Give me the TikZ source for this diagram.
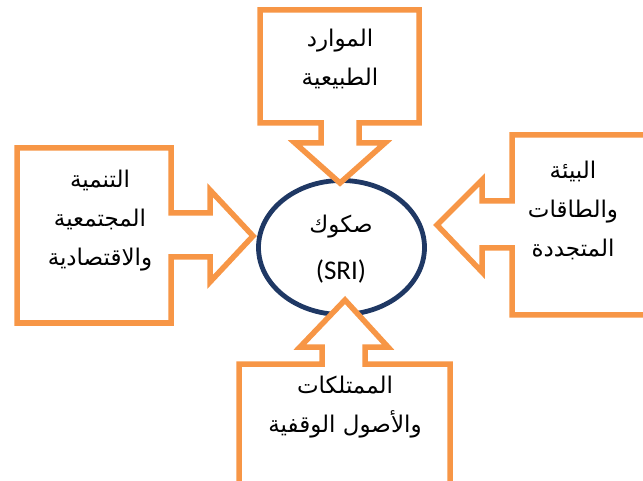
\documentclass[tikz,border=0pt]{standalone}
\usepackage{fontspec}
\newfontfamily\arabicfont[Script=Arabic]{DejaVu Sans}
\newfontfamily\latinfont{Carlito}
\TeXXeTstate=1
\definecolor{calloutorange}{RGB}{247,150,70}
\definecolor{navy}{RGB}{31,56,100}
\begin{document}
\begin{tikzpicture}[x=1pt,y=-1pt,
  callout/.style={draw=calloutorange,line width=5.5pt,fill=white,line join=miter,miter limit=10},
  lbl/.style={font=\arabicfont\fontsize{23}{39}\selectfont,align=center,text=black,inner sep=0pt}]
\useasboundingbox (0,0) rectangle (643,481);
\clip (0,0) rectangle (643,481);
% center ellipse
\draw[navy,line width=4.8pt,fill=white] (341.5,247.5) ellipse [x radius=83,y radius=67];
\coordinate (hub) at (341.5,247.5);
% top callout
\draw[callout] (260,10) -- (419,10) -- (419,123) -- (359,123) -- (359,143) -- (385,143)
  -- (340,183) -- (295,143) -- (321,143) -- (321,123) -- (260,123) -- cycle;
% left callout
\draw[callout] (17,148) -- (171,148) -- (171,213) -- (210,213) -- (210,190) -- (253,236)
  -- (210,282) -- (210,257) -- (171,257) -- (171,323) -- (17,323) -- cycle;
% right callout
\draw[callout] (660,135) -- (512,135) -- (512,201) -- (482,201) -- (482,180) -- (437,225)
  -- (482,272) -- (482,248) -- (512,248) -- (512,315) -- (660,315) -- cycle;
% bottom callout
\draw[callout] (239,500) -- (239,364) -- (322,364) -- (322,347) -- (300,347) -- (345,300)
  -- (388,347) -- (365,347) -- (365,364) -- (450,364) -- (450,500) -- cycle;
% texts
\node[lbl] (top) at (340,59) {\beginR الموارد\endR\\\beginR الطبيعية\endR};
\node[lbl] (left) at (100,221) {\beginR التنمية\endR\\\beginR المجتمعية\endR\\\beginR والاقتصادية\endR};
\node[lbl] (right) at (573,210) {\beginR البيئة\endR\\\beginR والطاقات\endR\\\beginR المتجددة\endR};
\node[lbl] (bottom) at (345,407) {\beginR الممتلكات\endR\\\beginR والأصول الوقفية\endR};
\node[lbl] (sukuk) at (341,227) {\beginR صكوك\endR};
\node[font=\latinfont\fontsize{27}{30}\selectfont,inner sep=0pt] (sri) at (341,271) {(SRI)};
\end{tikzpicture}
\end{document}
